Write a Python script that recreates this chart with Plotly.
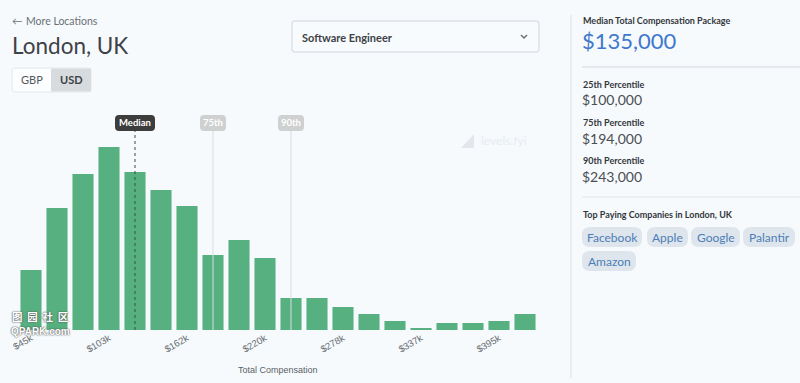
import plotly.graph_objects as go

W, H = 800, 383

bins = ["$45k", "$64k", "$84k", "$103k", "$123k", "$142k", "$162k", "$181k", "$200k", "$220k",
        "$239k", "$259k", "$278k", "$298k", "$317k", "$337k", "$356k", "$376k", "$395k", "$414k"]
counts = [60, 122, 156, 183, 158, 140, 124, 75, 90, 72, 32, 32, 23, 16, 9, 2, 7, 7, 9, 16]
tick_labels = ["$45k", "$103k", "$162k", "$220k", "$278k", "$337k", "$395k"]
marker_names = ["Median", "75th", "90th"]
marker_bins = ["$123k", "$181k", "$239k"]
percentile_labels = ["25th Percentile", "75th Percentile", "90th Percentile"]
percentile_values = ["$100,000", "$194,000", "$243,000"]
companies = ["Facebook", "Apple", "Google", "Palantir", "Amazon"]

FONT = "Lato"
BG = "#f6fafd"
DARK = "#3e4247"


def px(x):
    return x / W


def py(y):
    return 1 - y / H


def rrect(x0, y0, x1, y1, r, fill, line=None, lw=1):
    a, b, c, d = px(x0), py(y0), px(x1), py(y1)
    rx, ry = r / W, r / H
    path = (f"M{a+rx},{b} L{c-rx},{b} Q{c},{b} {c},{b-ry} L{c},{d+ry} Q{c},{d} {c-rx},{d} "
            f"L{a+rx},{d} Q{a},{d} {a},{d+ry} L{a},{b-ry} Q{a},{b} {a+rx},{b} Z")
    return dict(type="path", xref="paper", yref="paper", path=path, fillcolor=fill,
                line=dict(color=line or fill, width=lw if line else 0), layer="above")


def rect(x0, y0, x1, y1, fill):
    return dict(type="rect", xref="paper", yref="paper", x0=px(x0), x1=px(x1), y0=py(y0), y1=py(y1),
                fillcolor=fill, line=dict(width=0), layer="above")


def hline(x0, x1, y, color="#dde2e7", width=1):
    return dict(type="line", xref="paper", yref="paper", x0=px(x0), x1=px(x1), y0=py(y), y1=py(y),
                line=dict(color=color, width=width), layer="above")


def label(x, y, text, size, color=DARK, anchor="left", bold=False, family=FONT, shadow=None):
    font = dict(family=family, size=size, color=color)
    if shadow:
        font["shadow"] = shadow
    return dict(xref="paper", yref="paper", x=px(x), y=py(y), text=f"<b>{text}</b>" if bold else text,
                showarrow=False, xanchor=anchor, yanchor="middle", borderpad=0, font=font)


fig = go.Figure(go.Bar(x=bins, y=counts, marker=dict(color="#57b07f", line=dict(width=0)), hoverinfo="skip"))

shapes, notes = [], []

# Percentile markers, placed through the category axis
marker_px = [135, 213, 291]
for name, b, cx in zip(marker_names, marker_bins, marker_px):
    med = name == "Median"
    shapes.append(dict(type="line", xref="x", yref="paper", x0=b, x1=b, y0=py(330), y1=py(131),
                       line=dict(color="#3f4a45" if med else "#d9dde0", width=1, dash="dot" if med else "solid"),
                       layer="above"))
    hw = 20 if med else 13
    shapes.append(rrect(cx - hw, 115, cx + hw, 131, 4, "#3d3d3d" if med else "#cfd0d0"))
    notes.append(label(cx, 123, name, 9.5, "#ffffff", "center", True))

# Left header
notes += [
    label(11, 21, "←", 10.5, "#6b7075"),
    label(25, 21, "More Locations", 10.5, "#6b7075"),
    label(11, 45, "London, UK", 22.5, DARK),
    label(31.5, 80, "GBP", 11, "#55595e", "center"),
    label(71, 80, "USD", 11, "#3e4247", "center", True),
    label(301, 37, "Software Engineer", 11, DARK, "left", True),
    label(480, 141, "levels.fyi", 12, "#e8ecef"),
]
shapes += [
    rrect(12, 68, 91, 92, 3, "#fbfdfe", "#e4e8ec"),
    rect(51, 68.5, 91, 91.5, "#d8dbde"),
    rrect(292, 21, 539, 52, 3, "#f8fbfd", "#dde2e7", 1.5),
    dict(type="path", xref="paper", yref="paper", layer="above",
         path=f"M{px(521)},{py(35)} L{px(524)},{py(38)} L{px(527)},{py(35)}",
         line=dict(color="#6b7075", width=1.5)),
    dict(type="path", xref="paper", yref="paper", layer="above", fillcolor="#e3e7eb", line=dict(width=0),
         path=f"M{px(461)},{py(148)} L{px(474)},{py(134)} L{px(474)},{py(148)} Z"),
]

# Sidebar
shapes += [
    dict(type="line", xref="paper", yref="paper", x0=px(571), x1=px(571), y0=py(15), y1=py(378),
         line=dict(color="#dde1e6", width=1), layer="above"),
    hline(582, 800, 67, "#d3d8de"),
    hline(582, 800, 197, "#e1e5e9"),
]
notes += [
    label(582, 20, "Median Total Compensation Package", 9, "#33373c", "left", True),
    label(581, 41, "$135,000", 22, "#3f78cc"),
    label(582, 214, "Top Paying Companies in London, UK", 9, "#33373c", "left", True),
]
for i, (t, v) in enumerate(zip(percentile_labels, percentile_values)):
    notes.append(label(582, 84 + 38 * i, t, 9, "#33373c", "left", True))
    notes.append(label(581, 100 + 38 * i, v, 14, "#4a4e53"))

chip_boxes = [(582, 642, 227, 247), (647, 688, 227, 247), (691, 740, 227, 247),
              (743, 795, 227, 247), (582, 636, 251, 271)]
for name, (x0, x1, y0, y1) in zip(companies, chip_boxes):
    shapes.append(rrect(x0, y0, x1, y1, 8, "#dfe5ec"))
    notes.append(label((x0 + x1) / 2, (y0 + y1) / 2, name, 12, "#4a80b8", "center", False))

# Overlaid site watermark
halo = "0 0 2px #555, 0 0 1px #555"
notes += [
    label(40, 316, "图  园  社  区", 10.5, "#ffffff", "center", True, "Noto Sans CJK SC", halo),
    label(40, 331, "QPARK.com", 10, "#ffffff", "center", True, "Liberation Sans", halo),
]

fig.update_layout(
    width=W, height=H, margin=dict(l=0, r=0, t=0, b=0, pad=0),
    paper_bgcolor=BG, plot_bgcolor="rgba(0,0,0,0)", showlegend=False, bargap=0.19,
    xaxis=dict(domain=[px(18), px(538)], type="category", categoryorder="array", categoryarray=bins,
               range=[-0.5, 19.5], tickmode="array", tickvals=tick_labels, ticktext=tick_labels,
               tickangle=-30, showgrid=False, zeroline=False, showline=False, ticks="", ticklen=0,
               automargin=False, tickfont=dict(family="Liberation Sans", size=9.5, color="#666b70")),
    yaxis=dict(domain=[py(330), py(115)], range=[0, 215], visible=False, fixedrange=True),
    shapes=shapes,
    annotations=notes + [label(278, 370, "Total Compensation", 9, "#5a5f64", "center", False, "Liberation Sans")],
)

fig.write_html("out.html", config=dict(displayModeBar=False),
               post_script="document.body.style.margin='0';document.body.style.overflow='hidden';")
